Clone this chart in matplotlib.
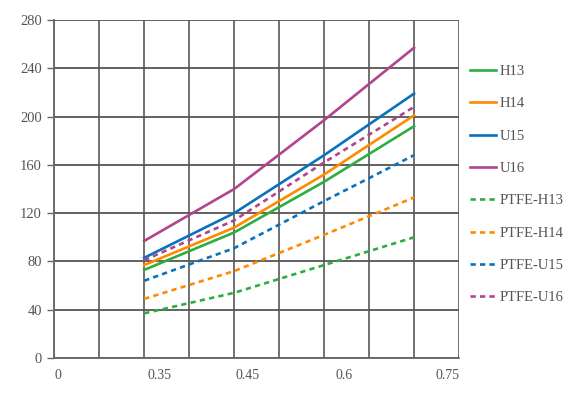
import matplotlib
matplotlib.use("Agg")
import matplotlib.pyplot as plt
from matplotlib.ticker import FixedLocator

x_pos = [2, 4, 6, 8]
x_labels = ["0", "0.35", "0.45", "0.6", "0.75"]
x_label_pos = [0.07, 2.35, 4.3, 6.45, 8.74]

series_names = ["H13", "H14", "U15", "U16", "PTFE-H13", "PTFE-H14", "PTFE-U15", "PTFE-U16"]
H13 = [73, 104, 146, 192]
H14 = [77, 108, 152, 201]
U15 = [83, 120, 168, 219]
U16 = [97, 140, 197, 257]
PTFE_H13 = [37, 54, 77, 100]
PTFE_H14 = [49, 72, 102, 133]
PTFE_U15 = [64, 91, 130, 168]
PTFE_U16 = [81, 114, 162, 208]
values = [H13, H14, U15, U16, PTFE_H13, PTFE_H14, PTFE_U15, PTFE_U16]
colors = ["#2EAE3E", "#FF8A00", "#0A72BC", "#B0448E"] * 2
solid = [True] * 4 + [False] * 4

fig = plt.figure(figsize=(5.85, 3.97), dpi=100)
ax = fig.add_axes([54.3 / 585, 1 - 358 / 397, (459 - 54.3) / 585, (358 - 20) / 397])

font = "Liberation Serif"
txtc = "#555555"

for name, v, c, s in zip(series_names, values, colors, solid):
    if s:
        ax.plot(x_pos, v, color=c, lw=1.9, label=name, zorder=3)
    else:
        ax.plot(x_pos, v, color=c, lw=1.9, dashes=(2, 1.6), label=name, zorder=3)

ax.set_xlim(0, 9)
ax.set_ylim(0, 280)
ax.set_yticks(range(0, 281, 40))
ax.xaxis.set_minor_locator(FixedLocator(list(range(0, 10))))
ax.set_xticks(x_label_pos)
ax.set_xticklabels(x_labels, fontfamily=font, color=txtc, fontsize=10)
ax.tick_params(axis="x", which="both", length=0, pad=8)
ax.tick_params(axis="y", length=5, width=1, color="#666666", pad=4, labelcolor=txtc, labelsize=10.5)
for lab in ax.get_yticklabels():
    lab.set_fontfamily(font)
ax.grid(False)
ax.grid(True, axis="x", which="minor", color="#666666", lw=1.3, zorder=1)
ax.grid(True, axis="y", which="major", color="#555555", lw=1.3, zorder=1)
for sp in ["top", "right"]:
    ax.spines[sp].set_visible(False)
for sp in ["left", "bottom"]:
    ax.spines[sp].set_color("#666666")
    ax.spines[sp].set_linewidth(1.3)

leg = fig.legend(loc="upper left", bbox_to_anchor=(464 / 585, 1 - 59 / 397),
                 frameon=False, prop={"family": font, "size": 10.5},
                 handlelength=1.8, handletextpad=0.25, labelspacing=1.31,
                 borderaxespad=0)
for t in leg.get_texts():
    t.set_color(txtc)

fig.savefig("out.png", dpi=100)
